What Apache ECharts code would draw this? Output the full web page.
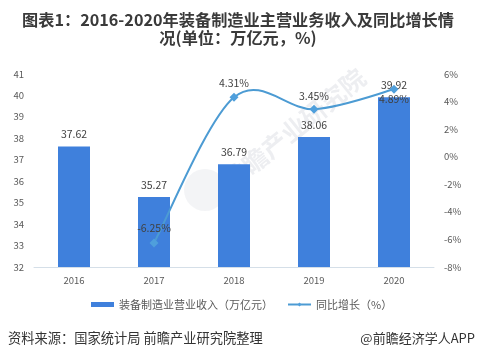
<!DOCTYPE html>
<html><head><meta charset="utf-8">
<style>html,body{margin:0;padding:0;background:#fff}#c{width:477px;height:359px}</style>
<script src="https://cdn.jsdelivr.net/npm/echarts@6/dist/echarts.min.js"></script>
</head><body><div id="c"></div>
<script>
const categories = ['2016','2017','2018','2019','2020'];
const revenue = [37.62,35.27,36.79,38.06,39.92];
const growth = [null,-6.25,4.31,3.45,4.89];
const leftTicks = {min:32,max:41,interval:1};
const rightTicks = {min:-8,max:6,interval:2};
const barName = '装备制造业营业收入（万亿元）';
const lineName = '同比增长（%）';
const F = '"Noto Sans CJK SC","Liberation Sans",sans-serif';
const lineColor = '#4c9bd3';
const chart = echarts.init(document.getElementById('c'),null,{renderer:'canvas'});

// Spreadsheet-style smoothing that may overshoot the points, positioned by the axis scales
function curveSegment(params, api){
  const i = params.dataIndex;
  if (growth[i] == null || i + 1 >= growth.length || growth[i+1] == null) return null;
  const pt = k => (k < 0 || k >= growth.length || growth[k] == null) ? null : api.coord([k, growth[k]]);
  const p1 = pt(i), p2 = pt(i+1), p0 = pt(i-1) || p1, p3 = pt(i+2) || p2;
  return {type:'bezierCurve',silent:true,
    shape:{x1:p1[0],y1:p1[1],x2:p2[0],y2:p2[1],
      cpx1:p1[0]+(p2[0]-p0[0])/6,cpy1:p1[1]+(p2[1]-p0[1])/6,
      cpx2:p2[0]-(p3[0]-p1[0])/6,cpy2:p2[1]-(p3[1]-p1[1])/6},
    style:{fill:null,stroke:lineColor,lineWidth:2}};
}

chart.setOption({
  animation:false,
  backgroundColor:'#fff',
  title:{text:'图表1：2016-2020年装备制造业主营业务收入及同比增长情\n况(单位：万亿元，%)',left:233,top:6,
    textAlign:'center',
    textStyle:{fontFamily:F,fontSize:16.2,fontWeight:'bold',color:'#3a3a3a',lineHeight:18}},
  grid:{left:34,right:43,top:74,bottom:92},
  legend:{top:294,left:86,itemGap:14,itemWidth:23,itemHeight:5,
    textStyle:{fontFamily:F,fontSize:11,color:'#595959'},
    data:[{name:barName,icon:'rect'},{name:lineName,lineStyle:{color:lineColor,width:2,opacity:1}}]},
  xAxis:{type:'category',data:categories,
    axisLine:{onZero:false,lineStyle:{color:'#d5dfe8',width:1}},axisTick:{show:false},
    axisLabel:{fontFamily:F,fontSize:9.5,color:'#595959',margin:9}},
  yAxis:[
    {type:'value',min:leftTicks.min,max:leftTicks.max,interval:leftTicks.interval,splitLine:{show:false},
     axisLine:{show:false},axisTick:{show:false},
     axisLabel:{fontFamily:F,fontSize:9.5,color:'#595959',margin:10}},
    {type:'value',min:rightTicks.min,max:rightTicks.max,interval:rightTicks.interval,splitLine:{show:false},
     axisLine:{show:false},axisTick:{show:false},
     axisLabel:{fontFamily:F,fontSize:9.5,color:'#595959',margin:10,formatter:'{value}%'}}
  ],
  series:[
    {name:barName,type:'bar',data:revenue,barWidth:32,itemStyle:{color:'#3f80dc'},
     label:{show:true,position:'top',distance:7,fontFamily:F,fontSize:10.5,color:'#404040',formatter:p=>p.value.toFixed(2)}},
    {name:'curve',type:'custom',yAxisIndex:1,renderItem:curveSegment,z:3,
     encode:{x:0,y:1},data:growth.map((v,i)=>[categories[i],v==null?'-':v])},
    {name:lineName,type:'line',yAxisIndex:1,data:growth,z:4,
     symbol:'diamond',symbolSize:9,
     lineStyle:{opacity:0},itemStyle:{color:'#4f9fdc'},
     label:{show:true,position:'top',distance:5,fontFamily:F,fontSize:10.5,color:'#404040',formatter:p=>p.value+'%'},
     labelLayout:p=>p.dataIndex===4?{dy:24}:(p.dataIndex===3?{dy:2}:{})}
  ],
  graphic:[
    {type:'circle',z:0,silent:true,shape:{cx:205,cy:190,r:21},style:{fill:'rgba(200,205,215,0.22)'}},
    {type:'text',x:226,y:184,rotation:0.68,z:0,silent:true,
     style:{text:'前瞻产业研究院',fontFamily:F,fontSize:25,fontWeight:'bold',fill:'rgba(190,195,205,0.28)',textVerticalAlign:'middle'}},
    {type:'text',left:8,top:331,style:{text:'资料来源：国家统计局 前瞻产业研究院整理',fontFamily:F,fontSize:13.25,fill:'#333'}},
    {type:'text',right:2,top:332,style:{text:'@前瞻经济学人APP',fontFamily:F,fontSize:13,fill:'#333'}}
  ]
});
</script></body></html>
